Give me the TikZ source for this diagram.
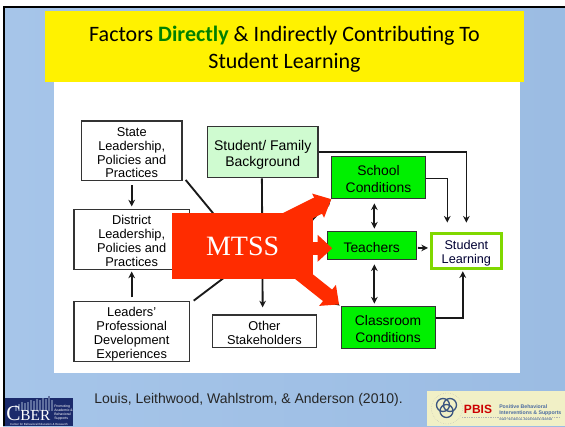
\documentclass[tikz,border=0pt]{standalone}
\usepackage{fontspec}
\setmainfont{Liberation Sans}
\newfontfamily\titlefont{Carlito}
\newfontfamily\mtssfont{Liberation Serif}
\usepackage{tikz}
\usetikzlibrary{arrows.meta}
\definecolor{slidegreen}{HTML}{00F000}
\definecolor{palegreen}{HTML}{CFFBD0}
\definecolor{learngreen}{HTML}{80D800}
\definecolor{mtssred}{HTML}{FF2C00}
\definecolor{logonavy}{HTML}{1B2A6B}
\definecolor{logobars}{HTML}{5F6F9E}
\definecolor{pbiscream}{HTML}{F1F0C6}
\definecolor{pbisblue}{HTML}{4A6AA0}
\tikzstyle{whitebox} = [rectangle,
					  align=center,
					  inner sep=0pt,
					  font=\fontsize{9.6}{10.4}\selectfont,
					  fill=white,
					  draw=black!80,
					  line width=0.9pt,
					 ]
\tikzstyle{greenbox} = [rectangle,
					  align=center,
					  inner sep=0pt,
					  font=\fontsize{10.4}{12.8}\selectfont,
					  fill=slidegreen,
					  draw=black!80,
					  line width=0.7pt,
					 ]
\tikzstyle{arrow} = [line width=1.4pt,black!90,-{Stealth[length=5pt,width=5pt]}]
\tikzstyle{twoway} = [line width=1.4pt,black!90,{Stealth[length=5pt,width=5pt]}-{Stealth[length=5pt,width=5pt]}]
\tikzstyle{plainline} = [line width=1.4pt,black!90]
\tikzstyle{redarrow} = [mtssred,-{Triangle[length=11pt,width=19.5pt]}]
\newcommand{\toplift}[1][9.6pt]{\rule{0pt}{#1}}

\begin{document}
\begin{tikzpicture}[x=0.75pt,y=-0.75pt,node distance=60pt]

% slide
\useasboundingbox (0,0) rectangle (565,426);
\fill [white] (0,0) rectangle (565,426);
\shade [left color={rgb,255:red,166;green,197;blue,233}, middle color={rgb,255:red,183;green,210;blue,238}, right color={rgb,255:red,155;green,188;blue,227}] (3,8) rectangle (565,426);
\fill [black] (3,6) rectangle (565,8);
\fill [black] (3,6) rectangle (5,426);
\fill [white] (54,82) rectangle (520,373);
\fill [yellow] (45,11) rectangle (524,82);
\node (title) [align=center, inner sep=0pt, font=\titlefont\fontsize{16.5}{20.5}\selectfont] at (284.5,49.5) {Factors \textbf{\textcolor{green!50!black}{Directly}} \& Indirectly Contributing To \\ Student Learning};

% left column
\node (state) [whitebox, minimum width=75.5pt, minimum height=44.8pt] at (131.7,150.85) {\toplift State \\ Leadership, \\ Policies and \\ Practices};
\node (district) [whitebox, minimum width=86.5pt, minimum height=45pt, below of =state, yshift=-6.3pt] {\toplift District \\ Leadership, \\ Policies and \\ Practices};
\node (leaders) [whitebox, minimum width=86.5pt, minimum height=45pt, below of =district, yshift=-9pt] {\toplift[11pt]Leaders' \\ Professional \\ Development \\ Experiences};

% middle column
\node (student) [whitebox, fill=palegreen, minimum width=83pt, minimum height=38.2pt, right of =state, xshift=38.25pt, yshift=-1pt, font=\fontsize{10.5}{12}\selectfont] {\toplift[12.2pt]Student/ Family \\ Background};
\node (other) [whitebox, minimum width=78.3pt, minimum height=24.5pt, right of =leaders, xshift=39.6pt] {\toplift Other \\ Stakeholders};
\coordinate (hub) at (250,258);
\coordinate (hub_up) at (305,228);
\coordinate (hub_mid) at (305,246);
\coordinate (mtss_up) at (242,243.4);
\coordinate (mtss_mid) at (242,248.3);
\coordinate (mtss_low) at (261,242.5);

% right column
\node (school) [greenbox, minimum width=70.2pt, minimum height=31.5pt, right of =student, xshift=26.85pt, yshift=-19.1pt] {\toplift School \\ Conditions};
\node (teachers) [greenbox, minimum width=67pt, minimum height=21.2pt, below of =school, xshift=-5.1pt, yshift=8.9pt] {\toplift Teachers};
\node (classroom) [greenbox, minimum width=70.5pt, minimum height=31.5pt, below of =teachers, xshift=12.3pt, yshift=-1.6pt] {\toplift Classroom \\ Conditions};
\node (learning) [rectangle, align=center, inner sep=0pt, fill=white, draw=learngreen, line width=2.4pt, minimum width=52.2pt, minimum height=26.3pt, right of =teachers, xshift=11pt, yshift=-3.75pt, font=\fontsize{9.5}{10.5}\selectfont, text=black!80!blue] {\toplift[10pt]Student \\ Learning};
\coordinate (teachers_tip) at (332.3,248.3);

\draw [arrow, shorten <=3pt, shorten >=1.7pt] (state) -- (district);
\draw [arrow, shorten <=2.5pt, shorten >=1.3pt] (leaders) -- (district);
\draw [plainline] ([xshift=2.3pt, yshift=1pt]state.south east) -- (hub);
\draw [plainline] ([xshift=2.8pt]leaders.north east) -- (hub);
\draw [plainline] (district) -- (hub);
\draw [arrow, shorten >=5.2pt] ([xshift=-0.6pt]student.south) -- ([xshift=-1.35pt]other.north);
\draw [arrow, shorten >=0.5pt] (hub_up) -- (school.south west);
\draw [arrow] (hub_mid) -- (teachers);
\draw [arrow, shorten >=1pt] (mtss_low) -- (classroom.north west);
\draw [twoway, shorten <=3.2pt, shorten >=2pt] ([xshift=-3.1pt]school.south) -- ([xshift=2pt]teachers.north);
\draw [twoway, shorten <=3pt, shorten >=2.2pt] ([xshift=2pt]teachers.south) -- ([xshift=-10.3pt]classroom.north);
\draw [arrow, shorten >=6.8pt, line width=1.1pt] (student.east) -| (learning.north);
\draw [arrow, shorten >=6.8pt, line width=1.1pt] ([yshift=-0.75pt]school.east) -| ([xshift=-14.3pt]learning.north);
\draw [arrow, shorten >=1pt, line width=1.1pt] ([yshift=7.3pt]classroom.east) -| ([xshift=-2.7pt]learning.south);
\draw [arrow, shorten >=1.5pt, shorten <=0.8pt] ([yshift=-1.6pt]teachers.east) -- ([yshift=2.1pt]learning.west);

% MTSS block over the diagram
\draw [redarrow, line width=13.5pt] (mtss_up) -- (school.south west);
\draw [redarrow, line width=10pt] (mtss_mid) -- (teachers_tip);
\draw [redarrow, line width=11pt] (mtss_low) -- ([xshift=-1.2pt, yshift=1.5pt]classroom.north west);
\node (mtss) [rectangle, fill=mtssred, minimum width=106pt, minimum height=49.3pt, inner sep=0pt, text=white, font=\mtssfont\fontsize{21}{24}\selectfont, right of =district, xshift=23.2pt, yshift=-5.1pt] {MTSS};

% citation and logos
\node (citation) [font=\fontsize{10.5}{12}\selectfont, text=black!85] at (248.5,400) {Louis, Leithwood, Wahlstrom, \& Anderson (2010).};

\fill [logonavy] (5,398) rectangle (73,426);
\foreach \x/\h in {15/6,18/7,21/9,24/8,27/9,30/11,33/10,36/12,39/11,42/13,45/12,48/15,51/11}
	\fill [logobars] (\x,411) rectangle ++(2,-\h);
\node (cber) [text=white, inner sep=0pt, anchor=base west, font=\mtssfont\fontsize{11}{11}\selectfont] at (6,420.5) {\fontsize{16}{16}\selectfont C\fontsize{11.5}{11.5}\selectfont BER};
\node (cber_text) [text=white, inner sep=0pt, align=left, anchor=west, font=\fontsize{2.6}{3}\selectfont] at (54,412.5) {Promoting \\ Academic \& \\ Behavioral \\ Supports};
\node (cber_foot) [text=white, inner sep=0pt, font=\fontsize{2.2}{2.4}\selectfont] at (39,424.6) {Center for Behavioral Education \& Research};

\fill [pbiscream] (427,391) rectangle (565,426);
\foreach \x/\y in {443/405,450/405,446.5/411}
	\draw [pbisblue!80!black, line width=1pt] (\x,\y) circle (6.5);
\draw [black!30, densely dotted, line width=0.3pt] (447,408.5) circle (15.5);
\draw [black!30, densely dotted, line width=0.3pt] (462,417) -- (560,417);
\node (pbis) [text=red!80!black, inner sep=0pt, font=\bfseries\fontsize{9}{11}\selectfont] at (478,409) {PBIS};
\node (pbis_text) [text=pbisblue, inner sep=0pt, align=left, anchor=west, font=\bfseries\fontsize{3.9}{5}\selectfont] at (499,410) {Positive Behavioral \\ Interventions \& Supports};
\node (pbis_sub) [text=pbisblue, inner sep=0pt, anchor=west, font=\bfseries\fontsize{2}{3}\selectfont] at (499,420) {OSEP TECHNICAL ASSISTANCE CENTER};

\end{tikzpicture}
\end{document}
